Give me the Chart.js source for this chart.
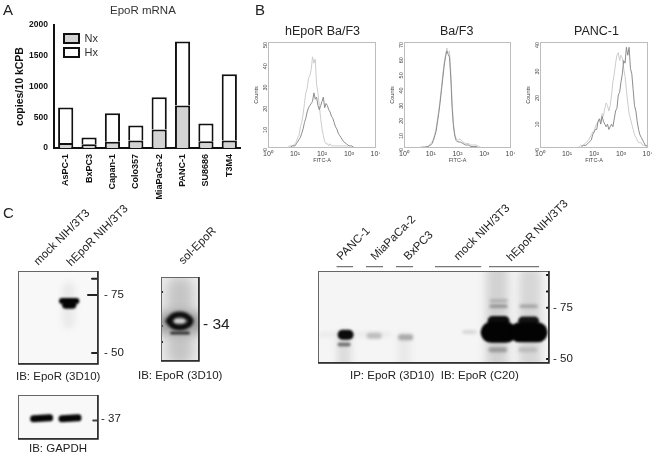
<!DOCTYPE html>
<html>
<head>
<meta charset="utf-8">
<script src="https://cdn.jsdelivr.net/npm/chart.js@4/dist/chart.umd.min.js"></script>
<style>
html, body { margin: 0; background: #fff; }
#page { position: relative; width: 656px; height: 457px; overflow: hidden; font-family: "Liberation Sans", Arial, sans-serif; color: #222; filter: blur(0.3px); }
canvas { position: absolute; }
.t { position: absolute; white-space: nowrap; line-height: 1; }
.r { transform-origin: 0 100%; transform: rotate(-45deg); font-size: 11.5px; }
</style>
</head>
<body>
<div id="page">
  <div class="t" style="left:3px;top:2px;font-size:15px">A</div>
  <div class="t" style="left:255px;top:2px;font-size:15px">B</div>
  <div class="t" style="left:3px;top:205px;font-size:15px">C</div>
  <div class="t" style="left:110px;top:5px;font-size:11.5px;color:#333">EpoR mRNA</div>
  <div class="t" style="left:285px;top:25px;font-size:12.5px">hEpoR Ba/F3</div>
  <div class="t" style="left:440px;top:25px;font-size:12.5px">Ba/F3</div>
  <div class="t" style="left:574px;top:25px;font-size:12.5px">PANC-1</div>

  <div class="t r" style="left:40px;top:256px">mock NIH/3T3</div>
  <div class="t r" style="left:73px;top:257px">hEpoR NIH/3T3</div>
  <div class="t r" style="left:185px;top:255px">sol-EpoR</div>
  <div class="t r" style="left:343px;top:251px">PANC-1</div>
  <div class="t r" style="left:377px;top:251px">MiaPaCa-2</div>
  <div class="t r" style="left:410px;top:251px">BxPC3</div>
  <div class="t r" style="left:460px;top:251px">mock NIH/3T3</div>
  <div class="t r" style="left:513px;top:252px">hEpoR NIH/3T3</div>

  <div class="t" style="left:16px;top:371px;font-size:11.5px">IB: EpoR (3D10)</div>
  <div class="t" style="left:138px;top:370px;font-size:11.5px">IB: EpoR (3D10)</div>
  <div class="t" style="left:29px;top:443px;font-size:11.5px">IB: GAPDH</div>
  <div class="t" style="left:350px;top:370px;font-size:11.5px;white-space:pre">IP: EpoR (3D10)  IB: EpoR (C20)</div>

  <canvas id="bars" width="241" height="205" style="left:0;top:0;width:241px;height:205px"></canvas>
  <canvas id="h1" width="132" height="132" style="left:248px;top:32px;width:132px;height:132px"></canvas>
  <canvas id="h2" width="131" height="132" style="left:384px;top:32px;width:131px;height:132px"></canvas>
  <canvas id="h3" width="132" height="132" style="left:520px;top:32px;width:132px;height:132px"></canvas>
  <canvas id="b1" width="115" height="99" style="left:15px;top:268px;width:115px;height:99px"></canvas>
  <canvas id="b2" width="115" height="50" style="left:15px;top:392px;width:115px;height:50px"></canvas>
  <canvas id="b3" width="80" height="90" style="left:158px;top:274px;width:80px;height:90px"></canvas>
  <canvas id="b4" width="270" height="106" style="left:315px;top:260px;width:270px;height:106px"></canvas>
</div>

<script>
// A: qPCR bars
const cellLines = ["AsPC-1", "BxPC3", "Capan-1", "Colo357", "MiaPaCa-2", "PANC-1", "SU8686", "T3M4"];
const nxValues = [80, 60, 100, 120, 300, 690, 110, 120];
const hxValues = [580, 110, 465, 245, 525, 1040, 290, 1080];

// B: FACS histograms, x in decades of FITC-A
const h1Pos = [0,0.7,0.8,0.9,1.0,1.05,1.1,1.15,1.2,1.25,1.3,1.35,1.4,1.45,1.5,1.55,1.6,1.65,1.7,1.75,1.8,1.85,1.9,1.95,2.0,2.05,2.1,2.15,2.2,2.25,2.3,2.35,2.4,2.45,2.5,2.55,2.6,2.65,2.7,2.8,2.9,3.0,3.1,3.2,4];
const h1Light = [0,0,1,1,2,3,5,6,10,12,16,21,26,28,33,34,37,43,40,42,30,26,20,14,9,6,3,2,2,1,2,1,1,1,1,1,1,1,1,1,1,0,0,0,0];
const h1Dark = [0,0,0,1,1,2,3,4,5,7,9,12,14,17,19,20,21,22,26,23,24,20,18,20,22,24,19,21,20,18,17,15,14,12,10,9,7,6,5,3,2,1,1,0,0];

const h2Pos = [0,0.5,0.7,0.9,1.0,1.05,1.1,1.15,1.2,1.25,1.3,1.35,1.4,1.45,1.5,1.55,1.6,1.65,1.7,1.75,1.8,1.85,1.9,1.95,2.0,2.1,2.2,2.3,2.4,2.5,2.6,2.7,2.8,2.9,4];
const h2Light = [0,0,1,1,3,4,6,9,13,19,25,32,40,49,56,61,66,63,64,50,30,16,9,6,5,6,4,3,3,2,2,2,1,0,0];
const h2Dark = [0,0,0,1,2,3,5,8,11,17,23,30,38,46,54,60,64,62,60,46,26,14,8,5,4,4,3,2,2,1,1,1,0,0,0];

const h3Pos = [0,1.4,1.5,1.6,1.7,1.8,1.9,1.95,2.0,2.05,2.1,2.15,2.2,2.25,2.3,2.35,2.4,2.45,2.5,2.55,2.6,2.65,2.7,2.75,2.8,2.85,2.9,2.95,3.0,3.05,3.1,3.15,3.2,3.25,3.3,3.35,3.4,3.45,3.5,3.55,3.6,3.65,3.7,3.75,3.8,3.85,3.9,3.95,4];
const h3Light = [0,0,1,1,2,3,5,6,6,8,9,10,11,10,13,12,15,17,16,14,16,20,25,28,32,35,36,33,35,34,30,27,22,17,13,11,9,7,5,4,3,2,2,2,1,1,1,0,0];
const h3Dark = [0,0,0,1,1,2,3,5,6,7,7,10,11,9,12,10,9,8,9,7,8,9,8,11,14,15,20,21,25,28,33,32,38,35,38,30,28,22,16,14,10,7,5,4,3,2,1,1,0];

// C: blot bands, x in lanes, y in kDa
const epoTopX = [1.1, 1.46];
const epoTopKda = [72.4, 72.4];
const epoLowX = [1.2, 1.36];
const epoLowKda = [70.8, 70.8];
const epoMarks = [82, 75, 50];
const gapdhLane1 = [0.39, 0.79];
const gapdhLane2 = [1.1, 1.5];
const gapdhKda = [37.2, 37.8];
const solRingX = [0.2, 0.33, 0.49, 0.65, 0.78, 0.65, 0.49, 0.33, 0.2];
const solRingKda = [36, 38.6, 39.2, 38.6, 36, 33.4, 32.8, 33.4, 36];
const solLowerX = [0.28, 0.72];
const solLowerKda = [30, 30];
const ipGroups = [[0.75, 1.3], [1.73, 2.3], [2.73, 3.3], [4.03, 5.57], [5.83, 7.5]];
const ipMarks = [91, 83, 75, 50];

const sans = '"Liberation Sans", Arial, sans-serif';
const frame = {
  id: 'frame',
  beforeDatasetsDraw(chart, args, opts) {
    const { left, top, width, height } = chart.chartArea;
    if (opts.fill) { chart.ctx.fillStyle = opts.fill; chart.ctx.fillRect(left, top, width, height); }
  },
  afterDraw(chart, args, opts) {
    const { left, top, right, bottom } = chart.chartArea;
    const c = chart.ctx;
    c.save();
    c.strokeStyle = opts.stroke; c.lineWidth = 1;
    c.strokeRect(left + 0.5, top + 0.5, right - left - 1, bottom - top - 1);
    if (opts.shadow) {
      c.strokeStyle = opts.shadow; c.lineWidth = 1.5;
      c.beginPath(); c.moveTo(left, bottom); c.lineTo(right, bottom); c.lineTo(right, top); c.stroke();
    }
    c.restore();
  }
};
const blur = {
  id: 'blur',
  beforeDatasetDraw(chart, args) {
    chart.ctx.save();
    chart.ctx.filter = 'blur(' + (chart.data.datasets[args.index].blurPx || 0) + 'px)';
  },
  afterDatasetDraw(chart) { chart.ctx.restore(); }
};
// legend sits inside the plot, under the top of the y axis
const legendSpot = {
  id: 'legendSpot',
  beforeDraw(chart) { chart.legend.left = chart.chartArea.left + 7; chart.legend.top = chart.chartArea.top + 5; }
};
const fixed = (w) => (s) => { s.width = w; s.paddingTop = 0; s.paddingBottom = 0; };
const fixedH = (h) => (s) => { s.height = h; s.paddingLeft = 0; s.paddingRight = 0; };
const pairs = (xs, ys) => xs.map((x, i) => ({ x: x, y: ys[i] }));

new Chart(document.getElementById('bars'), {
  type: 'bar',
  data: {
    labels: cellLines,
    datasets: [
      { label: 'Nx', data: nxValues, backgroundColor: '#d3d3d3', borderColor: '#111', borderWidth: 2 },
      { label: 'Hx', data: hxValues, backgroundColor: '#fff', borderColor: '#111', borderWidth: 2 }
    ]
  },
  plugins: [legendSpot],
  options: {
    responsive: false,
    animation: false,
    layout: { padding: { top: 25 } },
    barPercentage: 0.65,
    categoryPercentage: 1,
    plugins: {
      tooltip: { enabled: false },
      legend: {
        position: 'chartArea',
        align: 'start',
        labels: { boxWidth: 15, boxHeight: 9, padding: 3, color: '#333', font: { family: sans, size: 11 } }
      }
    },
    scales: {
      x: {
        stacked: true,
        afterFit: fixedH(57),
        grid: { display: false, tickLength: 4, tickColor: '#111', tickWidth: 1.5 },
        border: { color: '#111', width: 2 },
        ticks: { color: '#111', minRotation: 90, maxRotation: 90, padding: 2, autoSkip: false, font: { family: sans, size: 9, weight: 'bold' } }
      },
      y: {
        stacked: true,
        min: 0, max: 2000,
        afterFit: fixed(54),
        grid: { display: false, drawTicks: true, tickLength: 4, tickColor: '#111', tickWidth: 1.5 },
        border: { color: '#111', width: 2 },
        ticks: { stepSize: 500, color: '#111', padding: 2, font: { family: sans, size: 8.5, weight: 'bold' }, callback: (v) => String(v) },
        title: { display: true, text: 'copies/10 kCPB', color: '#111', padding: { top: 14, bottom: 0 }, font: { family: sans, size: 10.5, weight: 'bold' } }
      }
    }
  }
});

const superDigits = ['\u2070', '\u00b9', '\u00b2', '\u00b3', '\u2074'];
function histogram(id, pos, light, dark, yMax) {
  new Chart(document.getElementById(id), {
    type: 'scatter',
    data: {
      datasets: [
        { data: pairs(pos, dark), showLine: true, pointRadius: 0, borderColor: '#8c8c8c', borderWidth: 1 },
        { data: pairs(pos, light), showLine: true, pointRadius: 0, borderColor: '#cccccc', borderWidth: 1 }
      ]
    },
    plugins: [frame],
    options: {
      responsive: false,
      animation: false,
      layout: { padding: { top: 10, right: 4 } },
      plugins: { legend: { display: false }, tooltip: { enabled: false }, frame: { stroke: '#bdbdbd' } },
      scales: {
        x: {
          type: 'linear', min: 0, max: 4,
          afterFit: fixedH(16),
          grid: { display: false, tickLength: 2, tickColor: '#888' },
          border: { display: false },
          ticks: { stepSize: 1, color: '#444', padding: 0, maxRotation: 0, font: { family: sans, size: 7 }, callback: (v) => '10' + superDigits[v] },
          title: { display: true, text: 'FITC-A', color: '#444', padding: 0, font: { family: sans, size: 5.5 } }
        },
        y: {
          min: 0, max: yMax,
          afterFit: fixed(20),
          grid: { display: false, tickLength: 2, tickColor: '#888' },
          border: { display: false },
          ticks: { stepSize: 10, color: '#444', padding: 1, minRotation: 90, maxRotation: 90, font: { family: sans, size: 5.5 } },
          title: { display: true, text: 'Counts', color: '#444', padding: { top: 5.5, bottom: 0 }, font: { family: sans, size: 5.5 } }
        }
      }
    }
  });
}
histogram('h1', h1Pos, h1Light, h1Dark, 50);
histogram('h2', h2Pos, h2Light, h2Dark, 70);
histogram('h3', h3Pos, h3Light, h3Dark, 40);

function stroke(xs, ys, color, width, blurPx, tension) {
  return { data: pairs(xs, ys), showLine: true, pointRadius: 0, borderColor: color, borderWidth: width,
    borderCapStyle: 'round', blurPx: blurPx, tension: tension || 0 };
}
// datasets are listed back to front; Chart.js paints the first one last
function blot(id, opts) {
  return new Chart(document.getElementById(id), {
    type: 'scatter',
    data: { datasets: opts.datasets.reverse() },
    plugins: [frame, blur],
    options: {
      responsive: false,
      animation: false,
      layout: { padding: opts.padding },
      plugins: { legend: { display: false }, tooltip: { enabled: false },
        frame: { fill: opts.fill, stroke: '#666', shadow: '#222' } },
      scales: {
        x: { type: 'linear', display: false, min: opts.xMin, max: opts.xMax },
        y: {
          position: 'right',
          min: opts.yMin, max: opts.yMax,
          afterFit: fixed(opts.axisW),
          afterBuildTicks: (s) => { s.ticks = opts.ticks.map((v) => ({ value: v })); },
          grid: { display: false, drawTicks: false },
          border: { display: false },
          ticks: { color: '#222', padding: opts.tickPad, font: { family: sans, size: opts.fontSize || 11.5 }, callback: (v) => '- ' + v }
        }
      }
    }
  });
}

blot('b1', {
  padding: { left: 3, top: 3, bottom: 3 }, fill: '#f8f8f8', axisW: 32, tickPad: 6,
  xMin: 0, xMax: 2, yMin: 45.3, yMax: 85.3, ticks: [75, 50],
  datasets: [
    stroke([1.27, 1.27], [78, 63], '#e9e9e9', 12, 3),
    stroke(epoTopX, epoTopKda, '#050505', 6, 0.8),
    stroke(epoLowX, epoLowKda, '#050505', 8, 0.8),
    stroke([1.85, 1.98], [epoMarks[0], epoMarks[0]], '#222', 2, 0),
    stroke([1.75, 1.98], [epoMarks[1], epoMarks[1]], '#222', 2, 0),
    stroke([1.85, 1.98], [epoMarks[2], epoMarks[2]], '#222', 2, 0)
  ]
});

blot('b2', {
  padding: { left: 3, top: 3, bottom: 3 }, fill: '#f8f8f8', axisW: 32, tickPad: 3,
  xMin: 0, xMax: 2, yMin: 23.7, yMax: 53, ticks: [37],
  datasets: [
    stroke(gapdhLane1, gapdhKda, '#060606', 7, 1.2),
    stroke(gapdhLane2, gapdhKda, '#060606', 7, 1.2),
    stroke([1.88, 1.98], [36, 36], '#444', 2, 0)
  ]
});

blot('b3', {
  padding: { left: 3, top: 3, bottom: 3 }, fill: '#ededed', axisW: 39, fontSize: 15.5, tickPad: 4,
  xMin: 0, xMax: 1, yMin: 16, yMax: 58, ticks: [34],
  datasets: [
    stroke([0.5, 0.5], [52, 20], '#c4c4c4', 26, 6),
    stroke([0.12, 0.88], [35, 35], '#a0a0a0', 22, 5),
    stroke(solRingX, solRingKda, '#0a0a0a', 6, 1.4, 0.4),
    stroke([0.4, 0.58], [36, 36], '#d8d8d8', 3, 1.2),
    stroke(solLowerX, solLowerKda, '#333', 3, 0.9),
    stroke([0.03, 0.05], [50.5, 50.5], '#111', 2, 0),
    stroke([0.03, 0.05], [33.5, 33.5], '#444', 2, 0),
    stroke([0.03, 0.05], [25.5, 25.5], '#111', 2, 0)
  ]
});

blot('b4', {
  padding: { left: 3, top: 11, bottom: 3 }, fill: '#f5f5f5', axisW: 36, tickPad: 4,
  xMin: 0.13, xMax: 7.83, yMin: 48, yMax: 93, ticks: [75, 50],
  datasets: [
    stroke([6.1, 6.1], [92, 48], '#d2d2d2', 22, 4),
    stroke([7.2, 7.2], [90, 48], '#d6d6d6', 22, 4),
    stroke([1, 1], [60, 48], '#dcdcdc', 14, 3),
    stroke([3, 3], [60, 48], '#e8e8e8', 12, 3),
    stroke([0.2, 2.5], [62, 62], '#e4e4e4', 3, 2),
    stroke([0.95, 1.15], [61.8, 61.8], '#0b0b0b', 10, 1.2),
    stroke([0.85, 1.15], [57, 57], '#777', 4, 1.2),
    stroke([1.85, 2.15], [61.3, 61.3], '#bdbdbd', 6, 1.5),
    stroke([2.9, 3.2], [60.6, 60.6], '#a8a8a8', 6, 1.5),
    stroke([5.0, 5.35], [63.2, 63.2], '#d8d8d8', 4, 1.5),
    stroke([5.9, 6.4], [78.5, 78.5], '#aaa', 3, 1.5),
    stroke([5.9, 6.4], [75.7, 75.7], '#888', 3, 1.5),
    stroke([6.9, 7.4], [75.7, 75.7], '#999', 3, 1.5),
    stroke([5.95, 6.35], [68.5, 68.5], '#0d0d0d', 10, 1.2),
    stroke([6.95, 7.35], [68.5, 68.5], '#141414', 9, 1.2),
    stroke([5.9, 6.4], [63, 63], '#030303', 21, 1.2),
    stroke([6.85, 7.45], [63, 63], '#030303', 20, 1.2),
    stroke([5.9, 6.35], [54.5, 54.5], '#999', 5, 1.5),
    stroke([6.9, 7.35], [54.5, 54.5], '#bbb', 5, 1.5),
    ...ipMarks.map((m) => stroke([7.76, 7.83], [m, m], '#111', 2, 0)),
    ...ipGroups.map((g) => ({ ...stroke(g, [95.1, 95.1], '#555', 1, 0), clip: false, borderCapStyle: 'butt' }))
  ]
});
</script>
</body>
</html>
